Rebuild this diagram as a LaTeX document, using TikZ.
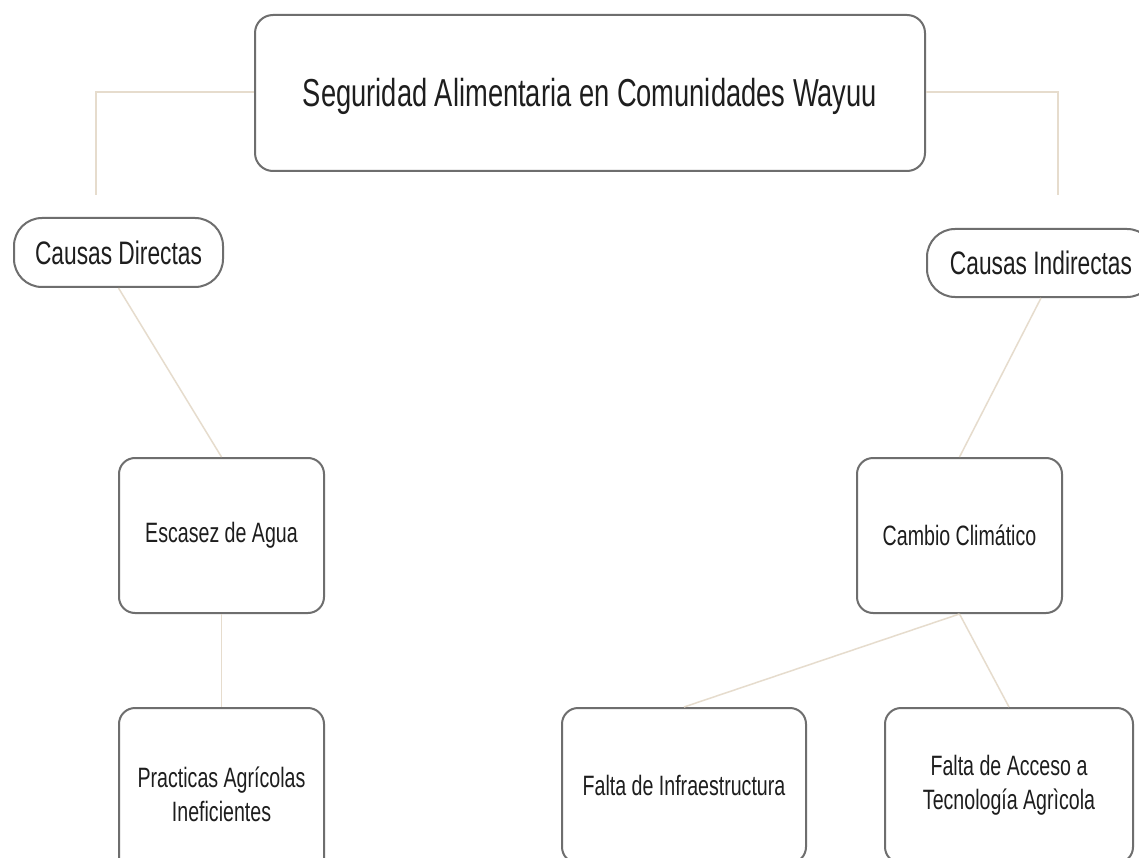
\documentclass[tikz,border=0pt]{standalone}
\usepackage{fontspec}
\setmainfont{Liberation Sans}[FakeStretch=0.70]
\definecolor{boxline}{HTML}{6E6E6E}
\definecolor{conn}{HTML}{E6DCCD}
\definecolor{ink}{HTML}{1E1E1E}
\begin{document}
\begin{tikzpicture}[x=1pt,y=-1pt,
  box/.style={draw=boxline, line width=2pt, rounded corners=16pt, fill=white,
    text=ink, align=center, inner sep=0pt, font=\fontsize{28}{34}\selectfont},
  pill/.style={draw=boxline, line width=2pt, rounded corners=28pt, fill=white,
    text=ink, align=center, inner sep=0pt, font=\fontsize{32.5}{36}\selectfont},
  title/.style={draw=boxline, line width=2pt, rounded corners=18pt, fill=white,
    text=ink, align=center, inner sep=0pt, font=\fontsize{39}{44}\selectfont},
  link/.style={draw=conn, line width=1.5pt}]
\useasboundingbox (0,0) rectangle (1139,858);
\clip (0,0) rectangle (1139,858);
\fill[white] (0,0) rectangle (1139,858);

% nodes
\node[title, minimum width=670pt, minimum height=156pt, text height=30pt, text depth=2pt] (main) at (590,93) {Seguridad Alimentaria en Comunidades Wayuu};
\node[pill, minimum width=209pt, minimum height=69pt] (cd) at (118.5,252.5) {Causas Directas};
\node[pill, minimum width=228pt, minimum height=68pt] (ci) at (1041,263) {Causas Indirectas};
\node[box, minimum width=205pt, minimum height=155pt] (esc) at (221.5,535.5) {Escasez de Agua};
\node[box, minimum width=205pt, minimum height=155pt] (cam) at (959.5,535.5) {Cambio Climático};
\node[box, minimum width=205pt, minimum height=172pt] (pra) at (221.5,794) {Practicas Agrícolas\\Ineficientes};
\node[box, minimum width=244pt, minimum height=155pt] (inf) at (684,785.5) {Falta de Infraestructura};
\node[box, minimum width=248pt, minimum height=155pt] (acc) at (1009,785.5) {Falta de Acceso a\\Tecnología Agrìcola};

% free ends of elbow connectors
\coordinate (lend) at (96,195);
\coordinate (rend) at (1058,195);

% connectors
\draw[link] (main.west |- 0,92) -| (lend);
\draw[link] (main.east |- 0,92) -| (rend);
\draw[link] (cd.south) -- (esc.north);
\draw[link] (ci.south) -- (cam.north);
\draw[link] (esc.south) -- (pra.north);
\draw[link] (cam.south) -- (inf.north);
\draw[link] (cam.south) -- (acc.north);
\end{tikzpicture}
\end{document}
